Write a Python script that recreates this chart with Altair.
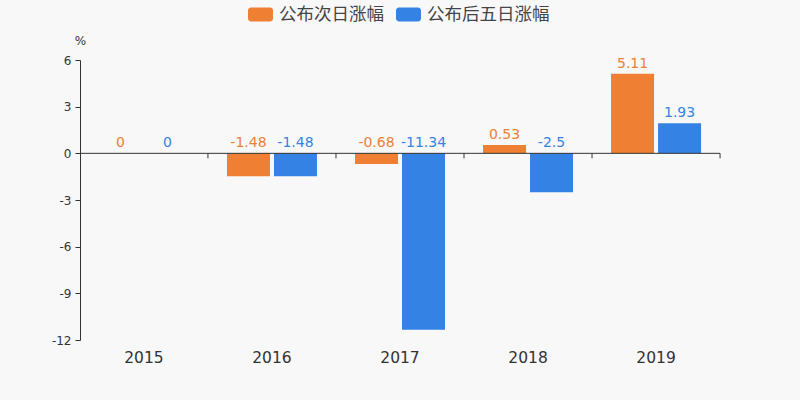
import altair as alt
import pandas as pd

years = ["2015", "2016", "2017", "2018", "2019"]
next_day = [0, -1.48, -0.68, 0.53, 5.11]
five_day = [0, -1.48, -11.34, -2.5, 1.93]
series = ["公布次日涨幅", "公布后五日涨幅"]
colors = ["#ef7f32", "#3483e4"]
y_ticks = [-12, -9, -6, -3, 0, 3, 6]

rows = []
for s, vals in zip(series, [next_day, five_day]):
    for y, v in zip(years, vals):
        rows.append({"year": y, "series": s, "value": v, "labelY": max(v, 0),
                     "label": f"{v:g}"})
df = pd.DataFrame(rows)

W, H = 640, 280
FONT = "DejaVu Sans"
CJK = "Noto Sans CJK SC"

xscale = alt.Scale(domain=years, paddingInner=0.297, paddingOuter=0.148)
yscale = alt.Scale(domain=[-12, 6], nice=False, zero=False)
offscale = alt.Scale(paddingInner=0.085, paddingOuter=0)
color = alt.Color(
    "series:N",
    scale=alt.Scale(domain=series, range=colors),
    legend=alt.Legend(
        title=None, orient="none", direction="horizontal",
        legendX=168, legendY=-58,
        symbolType="M-0.76,-0.56 H0.76 A0.24,0.24 0 0 1 1,-0.32 V0.32 A0.24,0.24 0 0 1 0.76,0.56 H-0.76 A0.24,0.24 0 0 1 -1,0.32 V-0.32 A0.24,0.24 0 0 1 -0.76,-0.56 Z",
        symbolSize=625, symbolStrokeWidth=0, symbolOpacity=1,
        labelFont=CJK, labelFontSize=17.5, labelColor="#444444",
        labelOffset=6, columnPadding=12,
    ),
)

base = alt.Chart(df)

bars = base.mark_bar().encode(
    x=alt.X("year:N", scale=xscale, sort=years,
            axis=alt.Axis(title=None, domain=False, ticks=False, labelAngle=0,
                          labelFont=FONT, labelFontSize=15.5, labelColor="#333333",
                          labelPadding=10)),
    xOffset=alt.XOffset("series:N", sort=series, scale=offscale),
    y=alt.Y("value:Q", scale=yscale,
            axis=alt.Axis(title="%", titleAngle=0, titleX=0, titleY=-16,
                          titleAlign="center", titleBaseline="alphabetic",
                          titleFont=FONT, titleFontSize=12, titleFontWeight="normal",
                          titleColor="#333333",
                          values=y_ticks, grid=False, domainColor="#333333",
                          tickColor="#333333", tickSize=5,
                          labelExpr="toString(datum.value)",
                          labelFont=FONT, labelFontSize=12, labelColor="#333333",
                          labelPadding=4)),
    y2=alt.Y2(datum=0),
    color=color,
)

labels = base.mark_text(baseline="alphabetic", dy=-6, font=FONT, fontSize=14).encode(
    x=alt.X("year:N", scale=xscale, sort=years),
    xOffset=alt.XOffset("series:N", sort=series, scale=offscale),
    y=alt.Y("labelY:Q", scale=yscale),
    text=alt.Text("label:N"),
    color=alt.Color("series:N", scale=alt.Scale(domain=series, range=colors), legend=None),
)

zero_line = alt.Chart(pd.DataFrame({"z": [0]})).mark_rule(color="#333333", strokeWidth=1).encode(
    y=alt.Y("z:Q", scale=yscale),
    x=alt.value(0), x2=alt.value(W),
)

ticks = alt.Chart(pd.DataFrame({"year": years, "z": [0] * len(years)})).mark_rule(
    color="#333333", strokeWidth=1, y2Offset=5, xOffset=19
).encode(
    x=alt.X("year:N", scale=xscale, sort=years, bandPosition=1),
    y=alt.Y("z:Q", scale=yscale),
    y2=alt.Y2("z:Q"),
)

chart = alt.layer(bars, labels, zero_line, ticks).properties(
    width=W, height=H,
    background="#f8f8f8",
    padding={"left": 80, "right": 80, "top": 60, "bottom": 60},
    autosize=alt.AutoSizeParams(type="none"),
).configure_view(stroke=None)

chart.save("out.html", embed_options={"renderer": "svg", "actions": False})
